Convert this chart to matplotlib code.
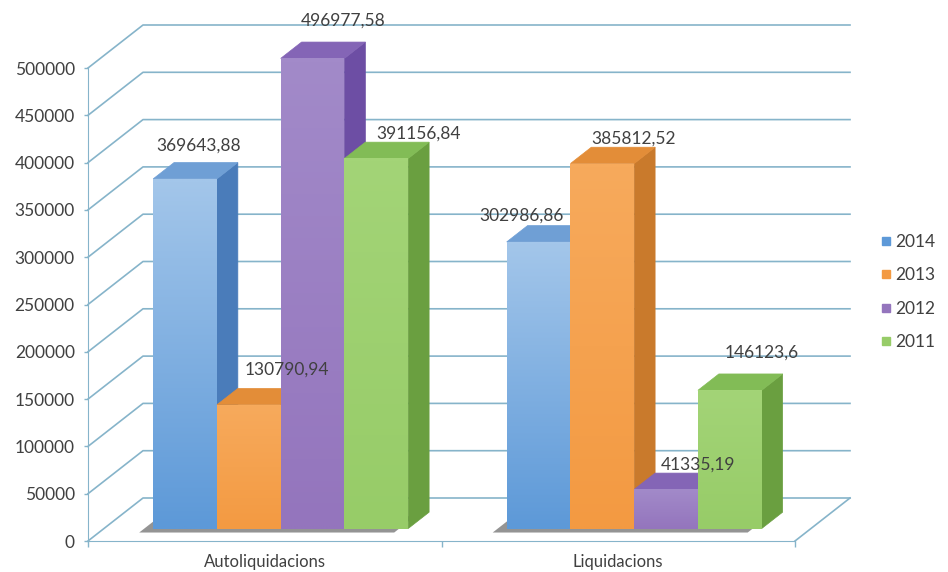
import numpy as np
import matplotlib
matplotlib.use("Agg")
import matplotlib.pyplot as plt
from matplotlib.patches import Polygon
from matplotlib.lines import Line2D
from matplotlib.colors import to_rgb

# ---------------- data ----------------
categories = ["Autoliquidacions", "Liquidacions"]
series_names = ["2014", "2013", "2012", "2011"]
v2014 = [369643.88, 302986.86]
v2013 = [130790.94, 385812.52]
v2012 = [496977.58, 41335.19]
v2011 = [391156.84, 146123.6]
yticks = [0, 50000, 100000, 150000, 200000, 250000, 300000, 350000, 400000, 450000, 500000]

# ---------------- style ----------------
front_top = ["#a3c6ea", "#f7aa5c", "#a28ac9", "#a3d477"]
front_bot = ["#5d99d8", "#f39a42", "#9475bd", "#97cc68"]
side_col = ["#4a7cba", "#c97a2c", "#6d4ea4", "#6a9f40"]
top_col = ["#6f9fd5", "#e38d38", "#8465b6", "#82bc56"]
grid_col = "#86b4ca"
text_col = "#404040"
# label offsets (pixels) relative to top-face centre
lab_dx = [[3, -28], [28, 21], [20, 22], [32, 21]]
lab_dy = [25, 27, 30, 17, 18, 17, 17, 30]

plt.rcParams["font.family"] = ["Lato", "DejaVu Sans"]

W, H = 948, 572
fig = plt.figure(figsize=(W / 100, H / 100), dpi=100)
ax_left_px, ax_bottom_px, ax_w_px, ax_top_px = 88, 31, 707, 10
px_per_50k = 47.3
ax_h_px = H - ax_bottom_px - ax_top_px
ax = fig.add_axes([ax_left_px / W, ax_bottom_px / H, ax_w_px / W, ax_h_px / H])
ymax = ax_h_px / px_per_50k * 50000
ax.set_xlim(-0.5, 1.5)
ax.set_ylim(0, ymax)

ux = 2.0 / ax_w_px          # data units per pixel (x)
uy = 50000 / px_per_50k     # data units per pixel (y)
DX, DY = 55 * ux, 43 * uy   # full depth offset
z0, z1 = 0.29, 0.67
bw = 63.75 * ux


def proj(x, y, z):
    return (x + z * DX, y + z * DY)


# ---------------- walls / grid ----------------
for t in yticks:
    a = proj(-0.5, t, 0)
    b = proj(-0.5, t, 1)
    c = proj(1.5, t, 1)
    ax.plot([a[0], b[0], c[0]], [a[1], b[1], c[1]], color=grid_col, lw=1.2,
            clip_on=False, zorder=1)
a = proj(1.5, 0, 0)
b = proj(1.5, 0, 1)
ax.plot([a[0], b[0]], [a[1], b[1]], color=grid_col, lw=1.2, clip_on=False, zorder=1)

# ---------------- bars ----------------
values = [v2014, v2013, v2012, v2011]
ncat = len(categories)
for i in range(ncat):
    # shadow under group
    gl = i - 2 * bw
    gr = i + 2 * bw
    sx, sy = -14 * ux, -4 * uy
    pts = [proj(gl, 0, z0), proj(gr, 0, z0), proj(gr, 0, z1), proj(gl, 0, z1)]
    pts = [(p[0] + sx, p[1] + sy) for p in pts]
    ax.add_patch(Polygon(pts, closed=True, facecolor="#7a7a7a", edgecolor="none",
                         alpha=0.8, zorder=2, clip_on=False))
    for k in range(len(series_names)):
        v = values[k][i]
        xl = i + (k - 2) * bw
        xr = xl + bw
        front = [proj(xl, 0, z0), proj(xr, 0, z0), proj(xr, v, z0), proj(xl, v, z0)]
        side = [proj(xr, 0, z0), proj(xr, 0, z1), proj(xr, v, z1), proj(xr, v, z0)]
        top = [proj(xl, v, z0), proj(xr, v, z0), proj(xr, v, z1), proj(xl, v, z1)]
        zb = 3 + k * 0.1
        ax.add_patch(Polygon(side, closed=True, facecolor=side_col[k], edgecolor=side_col[k],
                             lw=0.5, zorder=zb, clip_on=False))
        ax.add_patch(Polygon(top, closed=True, facecolor=top_col[k], edgecolor=top_col[k],
                             lw=0.5, zorder=zb, clip_on=False))
        fpoly = Polygon(front, closed=True, facecolor=front_bot[k], edgecolor="none",
                        zorder=zb + 0.01, clip_on=False, transform=ax.transData)
        ax.add_patch(fpoly)
        grad = np.linspace(0, 1, 64)[:, None]
        c1, c2 = np.array(to_rgb(front_top[k])), np.array(to_rgb(front_bot[k]))
        img = c1[None, None, :] * (1 - grad[..., None]) + c2[None, None, :] * grad[..., None]
        img = np.repeat(img, 2, axis=1)
        im = ax.imshow(img, extent=[front[0][0], front[1][0], front[0][1], front[2][1]],
                       aspect="auto", zorder=zb + 0.02, origin="upper", interpolation="bilinear")
        im.set_clip_path(fpoly)
        # data label
        tx, ty = proj((xl + xr) / 2, v, (z0 + z1) / 2)
        ax.annotate(f"{v}".replace(".", ","), (tx, ty),
                    xytext=(lab_dx[k][i] * 0.72, lab_dy[i * 4 + k] * 0.72),
                    textcoords="offset points", ha="center", va="center",
                    fontsize=12.5, color=text_col, zorder=10, annotation_clip=False)

ax.set_xlim(-0.5, 1.5)
ax.set_ylim(0, ymax)

# ---------------- axes ----------------
for s in ["top", "right"]:
    ax.spines[s].set_visible(False)
ax.spines["left"].set_bounds(0, 500000)
ax.spines["left"].set_color(grid_col)
ax.spines["bottom"].set_color(grid_col)
ax.spines["left"].set_zorder(1)
ax.set_facecolor("none")
ax.set_yticks(yticks)
ax.set_yticklabels([str(t) for t in yticks])
ax.tick_params(axis="y", length=3, width=1, color=grid_col, pad=6.5,
               labelsize=12.5, labelcolor=text_col)
ax.set_xticks(range(ncat))
ax.set_xticklabels(categories)
ax.set_xticks([-0.5, 0.5, 1.5], minor=True)
ax.tick_params(axis="x", which="major", length=0, pad=9, labelsize=12, labelcolor=text_col)
ax.tick_params(axis="x", which="minor", length=4, width=1, color=grid_col)

# ---------------- legend ----------------
handles = [Line2D([], [], marker="s", linestyle="none", markersize=6,
                  markerfacecolor=front_bot[k], markeredgecolor=front_bot[k])
           for k in range(len(series_names))]
fig.legend(handles, series_names, loc="upper left", bbox_to_anchor=(878 / W, 1 - 234 / H),
           frameon=False, handletextpad=0.1, handlelength=0.9, labelspacing=1.0,
           fontsize=12.5, labelcolor=text_col, borderaxespad=0, borderpad=0)

fig.savefig("out.png", dpi=100)
